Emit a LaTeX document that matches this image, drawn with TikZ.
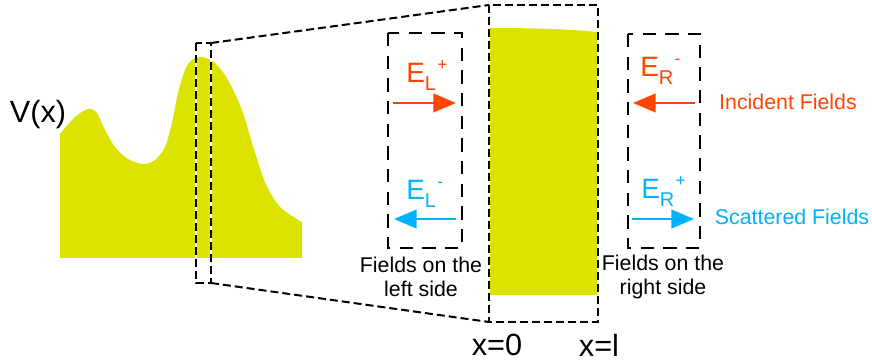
\documentclass[tikz,border=0pt]{standalone}
\usepackage{fontspec}
\setmainfont{Liberation Sans}
\usetikzlibrary{arrows.meta}
\definecolor{potyellow}{RGB}{221,227,0}
\definecolor{incred}{RGB}{255,69,0}
\definecolor{scatblue}{RGB}{0,178,250}
\tikzset{
  zoomline/.style={line width=1.5pt,dash pattern=on 6pt off 3pt,
    preaction={draw=white,solid,line width=1.5pt}},
  sidebox/.style={line width=1.1pt,dash pattern=on 10pt off 7pt},
  field/.style={line width=1.5pt,-{Triangle[length=17pt,width=14pt]}},
  lbl/.style={font=\fontsize{16}{17.5}\selectfont,align=center,inner sep=0pt},
  elbl/.style={anchor=base west,inner sep=0pt},
}
\newcommand{\Efield}[2]{\fontsize{21}{21}\selectfont E\raisebox{-6pt}{\fontsize{15}{15}\selectfont #1}\kern1pt\raisebox{9pt}{\fontsize{13}{13}\selectfont #2}}

\begin{document}
\begin{tikzpicture}[x=0.75pt,y=-0.75pt]
  \useasboundingbox (0,0) rectangle (872,363);
  % potential
  \fill[potyellow] (60,258) -- plot[smooth,tension=0.5] coordinates {(60,134) (75,117) (88,109)
    (97,113) (105,130) (115,147) (128,159) (143,164) (155,160) (165,147) (172,123) (178,93)
    (185,70) (192,60) (202,57) (215,63) (228,80) (242,110) (253,146) (265,182) (280,207)
    (302,222)} -- (302,258) -- cycle;
  \node[font=\fontsize{23}{23}\selectfont,inner sep=0pt] (vx) at (38,115) {V(x)};
  % zoomed slab
  \fill[potyellow] (490,28) .. controls (530,28) and (570,29) .. (597,32) -- (597,295) -- (490,295) -- cycle;
  \coordinate (sTL) at (196,43);
  \coordinate (sTR) at (211,43);
  \coordinate (sBR) at (211,283);
  \coordinate (bTL) at (489,5);
  \coordinate (bBL) at (489,322);
  \coordinate (bBR) at (598,322);
  \draw[zoomline] (sTL) rectangle (sBR);
  \draw[zoomline] (bTL) rectangle (bBR);
  \draw[zoomline] (sTR) -- (bTL);
  \draw[zoomline] (sBR) -- (bBL);
  \node[font=\fontsize{23}{23}\selectfont,inner sep=0pt] (x0) at (497,345) {x=0};
  \node[font=\fontsize{23}{23}\selectfont,inner sep=0pt] (xl) at (599,345) {x=l};
  % left side
  \draw[sidebox] (388,33) rectangle (462,248);
  \node[elbl,text=incred] (ELp) at (406,83) {\Efield{L}{+}};
  \node[elbl,text=scatblue] (ELm) at (406,200) {\Efield{L}{-}};
  \coordinate (ELpa) at (393,103);
  \coordinate (ELpb) at (456,103);
  \coordinate (ELma) at (456,219);
  \coordinate (ELmb) at (394,219);
  \draw[field,incred] (ELpa) -- (ELpb);
  \draw[field,scatblue] (ELma) -- (ELmb);
  \node[lbl] (leftside) at (421,277) {Fields on the\\left side};
  % right side
  \draw[sidebox] (628,34) rectangle (700,248);
  \node[elbl,text=incred] (ERm) at (640,77) {\Efield{R}{-}};
  \node[elbl,text=scatblue] (ERp) at (641,199) {\Efield{R}{+}};
  \coordinate (ERma) at (695,103);
  \coordinate (ERmb) at (633,103);
  \coordinate (ERpa) at (632,219);
  \coordinate (ERpb) at (694,219);
  \draw[field,incred] (ERma) -- (ERmb);
  \draw[field,scatblue] (ERpa) -- (ERpb);
  \node[lbl] (rightside) at (663,277) {Fields on the\\right side};
  \node[lbl,text=incred] (incident) at (788,102) {Incident Fields};
  \node[lbl,text=scatblue] (scattered) at (792,217) {Scattered Fields};
\end{tikzpicture}
\end{document}
